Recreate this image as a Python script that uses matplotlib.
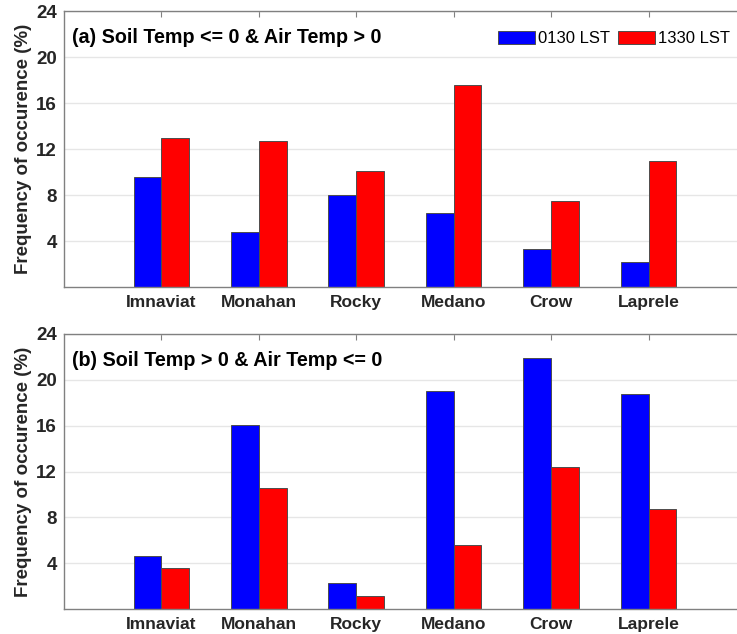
import numpy as np
import matplotlib
matplotlib.use("Agg")
import matplotlib.pyplot as plt

plt.rcParams['font.family'] = ['Liberation Sans', 'DejaVu Sans']

sites = ["Imnaviat", "Monahan", "Rocky", "Medano", "Crow", "Laprele"]
series_names = ["0130 LST", "1330 LST"]
colors = ["#0000ff", "#ff0000"]

# (a) Soil Temp <= 0 & Air Temp > 0
a_0130 = [9.6, 4.8, 8.0, 6.4, 3.3, 2.2]
a_1330 = [13.0, 12.7, 10.1, 17.6, 7.5, 11.0]

# (b) Soil Temp > 0 & Air Temp <= 0
b_0130 = [4.6, 16.1, 2.3, 19.0, 21.9, 18.8]
b_1330 = [3.6, 10.6, 1.1, 5.6, 12.4, 8.7]

titles = ["(a) Soil Temp <= 0 & Air Temp > 0", "(b) Soil Temp > 0 & Air Temp <= 0"]
yticks = [4, 8, 12, 16, 20, 24]

fig = plt.figure(figsize=(7.37, 6.34), dpi=100)
ax1 = fig.add_axes([0.0868, 0.5473, 0.9254, 0.4353])
ax2 = fig.add_axes([0.0868, 0.0394, 0.9254, 0.4338])

x = np.arange(1, len(sites) + 1)
w = 0.285

for ax, vals0, vals1, title in [(ax1, a_0130, a_1330, titles[0]),
                                (ax2, b_0130, b_1330, titles[1])]:
    ax.set_axisbelow(True)
    ax.grid(axis='y', color='#e6e6e6', linewidth=1)
    ax.bar(x - w / 2, vals0, w, color=colors[0], edgecolor='#4d4d4d',
           linewidth=0.7, label=series_names[0])
    ax.bar(x + w / 2, vals1, w, color=colors[1], edgecolor='#4d4d4d',
           linewidth=0.7, label=series_names[1])
    ax.set_xlim(0, 7)
    ax.set_ylim(0, 24)
    ax.set_xticks(x)
    ax.set_xticklabels(sites, fontsize=12.5, fontweight='bold', color='#262626')
    ax.set_yticks(yticks)
    ax.set_yticklabels([str(t) for t in yticks], fontsize=13.5, fontweight='bold',
                       color='#262626')
    ax.tick_params(axis='x', direction='in', length=4, top=True, bottom=False,
                   color='#808080', pad=6)
    ax.tick_params(axis='y', direction='in', length=0, pad=5)
    for s in ax.spines.values():
        s.set_color('#808080')
        s.set_linewidth(1)
    ax.spines['right'].set_visible(False)
    ax.set_ylabel("Frequency of occurence (%)", fontsize=13.5, fontweight='bold',
                  color='#262626', labelpad=3)
    ax.text(0.012, 0.905, title, transform=ax.transAxes, fontsize=14.2,
            fontweight='bold', va='center', ha='left', color='black')

ax1.legend(loc='upper right', bbox_to_anchor=(0.991, 0.964), ncol=2, frameon=False,
           fontsize=12, handlelength=2.2, handleheight=0.8, columnspacing=0.45,
           handletextpad=0.2, borderaxespad=0.2)

fig.savefig("out.png", dpi=100)
